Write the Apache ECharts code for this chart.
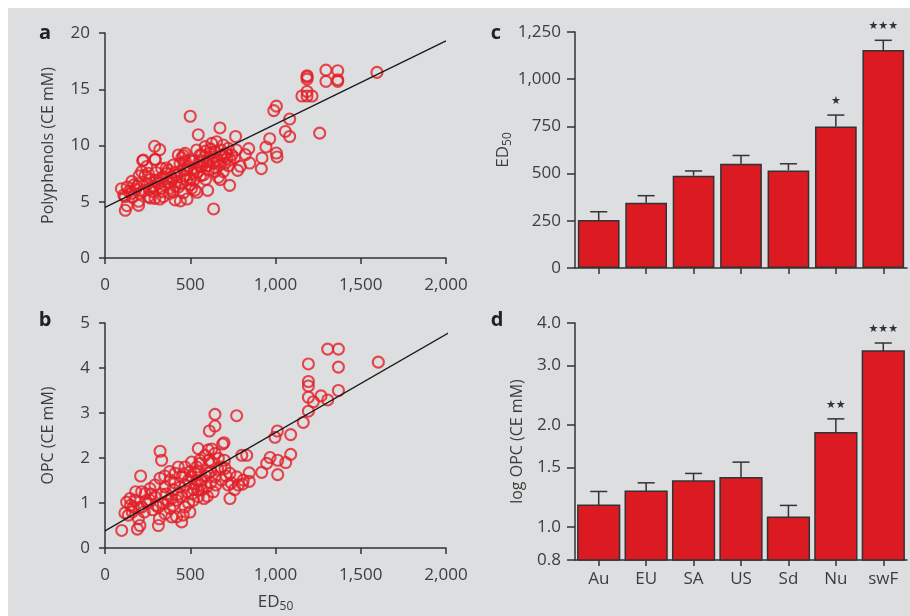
<!DOCTYPE html>
<html><head><meta charset="utf-8">
<script src="https://cdn.jsdelivr.net/npm/echarts@6/dist/echarts.min.js"></script>
<style>html,body{margin:0;padding:0;background:#fff}#c{width:910px;height:616px}</style>
</head><body><div id="c"></div>
<script>
// ---- data ----
const polyA = [
[1595,16.5],[1296,16.7],[1365,16.65],[1296,15.7],[1365,15.85],[1365,15.7],[1185,16.1],[1185,15.9],[1185,16.2],
[1155,14.4],[1185,14.8],[1185,14.4],[1214,14.4],[1259,11.1],[1005,13.5],[990,13.1],[1083,12.35],[1058,11.25],
[1083,10.8],[966,10.6],[944,9.87],[1005,9.33],[1009,8.98],[921,8.89],[917,7.94],[843,9.72],[823,9.19],[849,8.44],
[794,8.15],[778,7.79],[766,10.8],[731,6.46],[676,6.96],[637,4.36],[602,6.01],[674,11.56],[547,10.96],[500,12.6],
[540,5.84],[481,5.24],[442,5.07],[291,9.93],[321,9.63],[221,8.65],[119,4.24],[129,4.65],[197,4.68],[197,5.04],
[96,6.16],[158,6.81],[295,8.74],[321,5.24],[266,5.33],
[225,8.71],[244,8.12],[293,8.77],[528,6.04],[186,6.35],
[235,7.33],[254,7.53],[274,6.34],[313,6.64],[342,7.23],[371,7.82],[391,6.93],[420,7.38],[430,9.16],[469,9.3],
[440,8.41],[498,8.71],[538,9.6],[557,9.16],[567,8.12],[518,7.53],[479,6.93],[508,6.19],[293,5.3],[342,5.45],
[381,5.75],[411,5.16],[254,5.45],[156,5.75],[205,5.75],[332,7.97],[401,8.27],[459,7.82],[489,8.12],[215,7.68],
[117,5.45],[665,7.17],
[587,9.9],[626,10.19],[655,10.34],[694,10.04],[723,9.75],[616,9.3],[645,9.45],[684,9.16],[714,8.86],[567,9.16],
[596,8.56],[635,8.41],[674,8.27],[704,8.41],[733,8.71],[557,8.12],[606,7.82],[645,7.68],[694,7.68],[743,9.16],
[577,7.38],
[770,9.6],[760,8.9],[700,9.0],[660,8.7],[610,8.9],[590,9.5],[550,8.5],[520,8.6],[460,9.1],[450,8.9],[470,8.6],
[410,7.6],[360,7.5],[350,6.5],[380,6.2],[450,6.6],[470,7.3],[520,6.9],[560,7.3],[590,7.0],[300,6.9],[270,7.0],
[250,6.6],[230,6.0],[280,5.9],[330,6.2],[400,5.9],[430,6.3],[180,6.1],[200,6.6],[160,5.4],[140,5.9],[110,5.6],
[360,8.0],[390,7.2],[420,6.8],[440,7.7],[480,7.9],[500,7.0],[530,8.0],[540,7.6],[570,8.6],[600,8.2],[620,9.7],
[640,9.0],[650,8.0],[680,9.6],[710,9.3],[725,8.2],[300,7.6],[320,7.0],[260,6.1],[290,6.4],[340,5.9],[370,6.7],
[410,6.4],[460,5.8],[500,6.5],[200,7.3],[170,6.5],[130,6.3]
];
const opcB = [
[1603,4.13],[1306,4.42],[1369,4.42],[1369,4.02],[1369,3.5],[1193,4.09],[1193,3.7],[1193,3.6],[1193,3.35],[1193,3.04],
[1222,3.25],[1267,3.38],[1306,3.29],[1163,2.79],[1089,2.52],[1089,2.08],[1060,1.9],[1011,2.6],[997,2.46],[1013,1.95],
[1013,1.63],[968,2.01],[948,1.88],[919,1.68],[831,2.06],[802,2.06],[846,1.67],[846,1.48],[807,1.42],[772,2.94],
[645,2.97],[645,2.71],[612,2.6],[690,2.31],[698,2.34],[626,2.2],[547,2.21],[733,1.1],[323,2.15],[332,1.95],
[209,1.6],[98,0.39],[190,0.42],[205,0.5],[313,0.5],[319,0.65],[450,0.58],[127,1.02],[117,0.78],[137,0.73],
[196,0.65],[147,1.1],[176,1.06],[166,0.91],
[215,0.91],[235,1.21],[264,1.06],[293,1.14],[313,0.91],[352,0.76],[342,0.99],[381,0.88],[391,0.69],[420,1.06],
[450,1.14],[469,0.91],[498,0.8],[518,1.06],[547,1.14],[567,1.29],[528,1.43],[489,1.51],[450,1.58],[411,1.66],
[381,1.51],[352,1.36],[323,1.55],[293,1.4],[264,1.32],[215,1.25],[420,0.69],[459,0.73],[508,1.58],[547,1.69],
[557,1.88],[508,1.91],[469,1.8],[430,1.8],
[557,1.95],[538,1.8],[606,2.18],[645,2.1],[665,1.99],[626,1.91],[587,2.06],[704,1.77],[733,1.66],[772,1.58],
[811,1.51],[782,1.4],[723,1.4],[684,1.51],[645,1.58],[606,1.66],[567,1.51],[547,1.29],[596,1.36],[635,1.25],
[250,1.0],[280,0.85],[360,1.2],[400,1.3],[440,1.35],[480,1.25],[520,1.3],[600,1.15],[620,1.45],[660,1.75],
[700,1.95],[740,1.45],[760,1.3],[150,0.95],[180,1.25],[230,0.8],[370,1.05],[400,0.95],[500,1.7],[590,1.6],
[330,1.2],[350,1.6],[390,1.1],[410,1.45],[430,1.2],[470,1.4],[490,1.0],[510,1.2],[530,1.65],[560,1.4],[580,1.1],
[620,1.7],[650,1.4],[680,1.8],[710,1.6],[270,1.2],[300,0.95],[240,1.05],[200,0.9],[160,0.8],[380,1.7],[460,1.65],
[540,1.5],[610,1.95]
];
const fitA = [[0,4.5],[2000,19.3]];
const fitB = [[0,0.38],[2020,4.79]];
const regions = ['Au','EU','SA','US','Sd','Nu','swF'];
const ed50Mean  = [254,346,489,552,517,750,1155];
const ed50Upper = [298,383,514,596,552,810,1206];
const ed50Sig   = ['','','','','','★','★★★'];
const opcMean  = [1.16,1.277,1.369,1.398,1.069,1.897,3.307];
const opcUpper = [1.274,1.351,1.44,1.555,1.159,2.086,3.492];
const opcSig   = ['','','','','','★★','★★★'];
const ed50XTicks = [0,500,1000,1500,2000];
const polyTicks  = [0,5,10,15,20];
const opcTicks   = [0,1,2,3,4,5];
const ed50Ticks  = [0,250,500,750,1000,1250];
const logOpcTicks = [0.8,1.0,1.5,2.0,3.0,4.0];

// ---- styles ----
const FONT = 'Open Sans';
const TXT = '#3d3d3d';
const AX = '#333';
const RED = '#db1a22';
const CIRC = '#e31e26';
const fmt = v => Number(v).toLocaleString('en-US');
const lineStyle = {color: AX, width: 1.5};
function valAxis(extra) {
  return Object.assign({
    type: 'value',
    axisLine: {show: true, lineStyle},
    axisTick: {show: true, length: 6, lineStyle},
    axisLabel: {color: TXT, fontFamily: FONT, fontSize: 17, formatter: fmt},
    splitLine: {show: false},
    nameTextStyle: {color: TXT, fontFamily: FONT, fontSize: 16},
    nameLocation: 'middle'
  }, extra);
}
const subRich = {
  m: {fontFamily: FONT, fontSize: 17, color: TXT},
  s: {fontFamily: FONT, fontSize: 12, color: TXT, verticalAlign: 'bottom', padding: [10, 0, 0, 0]}
};

function errRender(sig) {
  return function (params, api) {
    const i = api.value(0);
    const base = api.coord([i, api.value(1)]);
    const top = api.coord([i, api.value(2)]);
    const half = api.size([1, 1])[0] * 0.18;
    const st = {stroke: AX, lineWidth: 1.5, fill: null};
    const ch = [
      {type: 'line', shape: {x1: top[0], y1: base[1], x2: top[0], y2: top[1]}, style: st},
      {type: 'line', shape: {x1: top[0] - half, y1: top[1], x2: top[0] + half, y2: top[1]}, style: st}
    ];
    const s = sig[params.dataIndex];
    if (s) ch.push({type: 'text', x: top[0], y: top[1] - 14,
      style: {text: s, fontSize: 11, fontFamily: 'DejaVu Sans', fill: '#333', align: 'center', verticalAlign: 'middle'}});
    return {type: 'group', children: ch};
  };
}
const logMin = logOpcTicks[0];
function logBarRender(params, api) {
  const i = api.value(0);
  const top = api.coord([i, api.value(1)]);
  const base = api.coord([i, logMin]);
  const bw = api.size([1, 1])[0] * 0.88;
  return {type: 'rect', shape: {x: top[0] - bw / 2, y: top[1], width: bw, height: base[1] - top[1]},
    style: {fill: RED, stroke: AX, lineWidth: 1.5}};
}

const chart = echarts.init(document.getElementById('c'), null, {renderer: 'canvas'});
const letter = (t, x, y) => ({type: 'text', x, y, style: {text: t, fontFamily: FONT, fontWeight: 'bold', fontSize: 20, fill: '#222', align: 'center', verticalAlign: 'middle'}});
chart.setOption({
  backgroundColor: '#dddee0',
  animation: false,
  graphic: [
    {type: 'rect', shape: {x: 0, y: 0, width: 910, height: 8}, style: {fill: '#fff'}, z: 100},
    {type: 'rect', shape: {x: 0, y: 0, width: 8, height: 616}, style: {fill: '#fff'}, z: 100},
    letter('a', 45, 33), letter('b', 45, 320), letter('c', 496, 33), letter('d', 497, 320)
  ],
  grid: [
    {left: 105, top: 33, width: 341, height: 225},
    {left: 105, top: 323, width: 341, height: 225},
    {left: 575, top: 32, width: 332, height: 236},
    {left: 575, top: 323, width: 332, height: 237}
  ],
  xAxis: [
    valAxis({gridIndex: 0, min: ed50XTicks[0], max: ed50XTicks[ed50XTicks.length - 1], interval: 500, offset: 9,
      axisLabel: {color: TXT, fontFamily: FONT, fontSize: 17, formatter: fmt, margin: 10}}),
    valAxis({gridIndex: 1, min: ed50XTicks[0], max: ed50XTicks[ed50XTicks.length - 1], interval: 500, offset: 9,
      axisLabel: {color: TXT, fontFamily: FONT, fontSize: 17, formatter: fmt, margin: 10},
      name: '{m|ED}{s|50}', nameGap: 34, nameTextStyle: {rich: subRich}}),
    {gridIndex: 2, type: 'category', data: regions, boundaryGap: true,
      axisLine: {show: true, lineStyle}, axisTick: {show: true, alignWithLabel: true, length: 6, lineStyle},
      axisLabel: {show: false}},
    {gridIndex: 3, type: 'category', data: regions, boundaryGap: true,
      axisLine: {show: true, lineStyle}, axisTick: {show: true, alignWithLabel: true, length: 6, lineStyle},
      axisLabel: {color: TXT, fontFamily: FONT, fontSize: 17, margin: 11}}
  ],
  yAxis: [
    valAxis({gridIndex: 0, min: polyTicks[0], max: polyTicks[polyTicks.length - 1], interval: 5, offset: 7,
      name: 'Polyphenols (CE mM)', nameGap: 42}),
    valAxis({gridIndex: 1, min: opcTicks[0], max: opcTicks[opcTicks.length - 1], interval: 1, offset: 7,
      name: 'OPC (CE mM)', nameGap: 42}),
    valAxis({gridIndex: 2, min: ed50Ticks[0], max: ed50Ticks[ed50Ticks.length - 1], interval: 250,
      axisTick: {show: true, length: 8, lineStyle},
      axisLabel: {color: TXT, fontFamily: FONT, fontSize: 17, formatter: fmt, margin: 14},
      name: '{m|ED}{s|50}', nameGap: 58, nameTextStyle: {rich: subRich}}),
    {gridIndex: 3, type: 'log', min: logOpcTicks[0], max: logOpcTicks[logOpcTicks.length - 1],
      axisLine: {show: true, lineStyle},
      axisTick: {show: true, length: 8, lineStyle, customValues: logOpcTicks},
      axisLabel: {color: TXT, fontFamily: FONT, fontSize: 17, margin: 14, customValues: logOpcTicks,
        formatter: v => Number(v).toFixed(1)},
      splitLine: {show: false}, minorTick: {show: false},
      name: 'log OPC (CE mM)', nameLocation: 'middle', nameGap: 50,
      nameTextStyle: {color: TXT, fontFamily: FONT, fontSize: 16}}
  ],
  series: [
    {type: 'scatter', xAxisIndex: 0, yAxisIndex: 0, data: polyA, symbol: 'circle', symbolSize: 11,
      itemStyle: {color: 'rgba(0,0,0,0)', borderColor: CIRC, borderWidth: 2.1}},
    {type: 'line', xAxisIndex: 0, yAxisIndex: 0, data: fitA, symbol: 'none', clip: false, z: 5,
      lineStyle: {color: '#1a1a1a', width: 1.3}},
    {type: 'scatter', xAxisIndex: 1, yAxisIndex: 1, data: opcB, symbol: 'circle', symbolSize: 11,
      itemStyle: {color: 'rgba(0,0,0,0)', borderColor: CIRC, borderWidth: 2.1}},
    {type: 'line', xAxisIndex: 1, yAxisIndex: 1, data: fitB, symbol: 'none', clip: false, z: 5,
      lineStyle: {color: '#1a1a1a', width: 1.3}},
    {type: 'bar', xAxisIndex: 2, yAxisIndex: 2, data: ed50Mean, barCategoryGap: '12%',
      itemStyle: {color: RED, borderColor: AX, borderWidth: 1.5}},
    {type: 'custom', xAxisIndex: 2, yAxisIndex: 2, renderItem: errRender(ed50Sig), clip: false,
      data: regions.map((r, i) => [i, ed50Mean[i], ed50Upper[i]]), z: 3},
    {type: 'custom', xAxisIndex: 3, yAxisIndex: 3, renderItem: logBarRender,
      data: regions.map((r, i) => [i, opcMean[i]])},
    {type: 'custom', xAxisIndex: 3, yAxisIndex: 3, renderItem: errRender(opcSig), clip: false,
      data: regions.map((r, i) => [i, opcMean[i], opcUpper[i]]), z: 3}
  ]
});
</script></body></html>
